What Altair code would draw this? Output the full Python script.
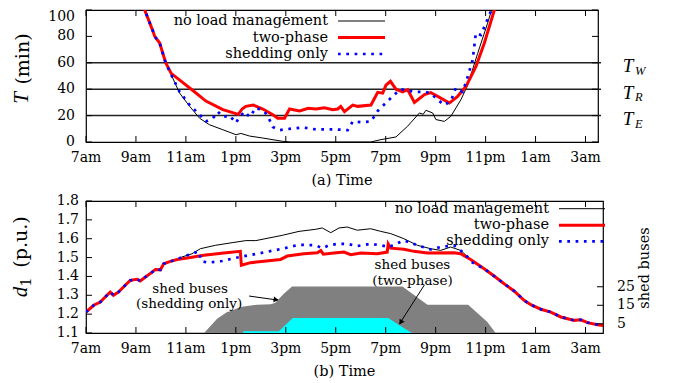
import altair as alt
import pandas as pd

FONT = "DejaVu Serif"
IFONT = "Liberation Serif"

tick_hours = [7, 9, 11, 13, 15, 17, 19, 21, 23, 25, 27]
tick_labels = ["7am", "9am", "11am", "1pm", "3pm", "5pm", "7pm", "9pm", "11pm", "1am", "3am"]

series_names = ["no load management", "two-phase", "shedding only"]

# ---------- (a) T (min) ----------
top_h_none = [9.1, 9.35, 9.68, 9.75, 9.95, 10.19, 10.41, 10.75, 11.15, 11.55, 11.95, 12.48, 13.01, 13.2, 13.55,
              14.08, 14.88, 15.2, 18.4, 18.81, 19.41, 19.88, 20.35, 20.5, 20.61, 20.88, 21.01, 21.35, 21.61, 22.01,
              22.28, 22.68, 23.08, 23.24, 23.5]
top_T_none = [115, 100, 84, 80, 75, 60, 51, 37, 27, 18, 13, 9.3, 5.5, 6.5, 4.5,
              3, 0.5, 0, 0, 1.8, 3.8, 12, 22, 21, 24, 22, 17, 15.6, 19.5, 32,
              43, 67, 90, 100, 118]

top_h_two = [9.1, 9.35, 9.68, 9.75, 9.95, 10.19, 10.41, 10.88, 11.28, 11.8, 12.48, 13.0, 13.1, 13.25, 13.4,
             13.7, 14.08, 14.48, 14.68, 14.95, 15.15, 15.55, 15.9, 16.21, 16.55, 16.88, 17.08, 17.2, 17.35, 17.68,
             17.88, 18.41, 18.68, 18.88, 19.01, 19.19, 19.41, 19.68, 19.88, 20.15, 20.55, 20.8, 21.08, 21.55, 21.88,
             22.21, 22.61, 22.95, 23.35, 23.6]
top_T_two = [115, 100, 84, 80, 75, 60, 52, 45, 39, 31, 24.5, 21.5, 21, 25, 27,
             28, 25, 20.7, 18, 18, 25, 23.5, 25.5, 25, 26, 24.5, 25, 27, 23, 28,
             27, 28, 37.6, 37, 43, 46, 40, 38, 39.6, 30, 36, 37.5, 34.6, 29.5, 34.6,
             42, 57, 75, 100, 118]

top_h_shed = [9.1, 9.35, 9.68, 9.75, 9.95, 10.19, 10.41, 10.75, 11.15, 11.55, 11.8, 12.08, 12.28, 12.48, 12.75,
              13.0, 13.15, 13.35, 13.55, 13.81, 14.15, 14.35, 14.48, 14.75, 15.15, 15.68, 16.21, 17.01, 17.48, 17.68,
              18.01, 18.41, 18.68, 19.08, 19.41, 19.61, 20.15, 20.55, 20.8, 21.08, 21.35, 21.61, 21.81, 22.08, 22.21,
              22.48, 22.61, 22.81, 23.01, 23.19, 23.4]
top_T_shed = [115, 100, 84, 80, 75, 60, 51, 38, 28, 20.7, 15.6, 18, 23, 19, 20,
              14.4, 19, 23, 19, 26, 23, 16.7, 11.4, 9, 10, 11, 9.5, 9.5, 9, 15.6,
              15, 15.6, 23.5, 31, 37, 40, 38, 38, 37, 32, 28, 31, 41, 38, 45,
              62, 82.5, 81, 90, 98, 118]

thresholds = [60, 40, 20]
threshold_subs = ["W", "R", "E"]
top_yticks = [0, 20, 40, 60, 80, 100]
top_ylabels = ["0", "20", "40", "60", "80", "100"]

# ---------- (b) d1 (p.u.) ----------
bot_h_none = [7.0, 7.31, 7.57, 7.84, 7.97, 8.1, 8.3, 8.57, 8.77, 9.04, 9.17, 9.38, 9.65, 9.78, 9.98, 10.11, 10.38, 10.65,
              10.84, 11.24, 11.58, 12.18, 12.85, 13.4, 13.8, 14.86, 15.53, 16.2, 16.46, 16.8, 17.13, 17.46, 17.86,
              18.4, 18.8, 19.2, 19.73, 20.27, 20.8, 21.2, 21.6, 22.0, 22.4, 22.94, 23.34, 23.74, 24.14, 24.54,
              24.81, 25.21, 25.61, 26.01, 26.55, 26.81, 27.08, 27.48, 27.72]
bot_d_none = [1.211, 1.247, 1.264, 1.300, 1.317, 1.300, 1.317, 1.353, 1.379, 1.385, 1.376, 1.397, 1.423, 1.437, 1.435,
              1.467, 1.480, 1.490,
              1.503, 1.520, 1.547, 1.565, 1.579, 1.590, 1.590, 1.618, 1.639, 1.650, 1.657, 1.632, 1.657, 1.662, 1.645,
              1.653, 1.639, 1.627, 1.600, 1.565, 1.547, 1.538, 1.556, 1.538, 1.490, 1.441, 1.402, 1.361, 1.323, 1.273,
              1.250, 1.226, 1.211, 1.185, 1.167, 1.170, 1.155, 1.144, 1.140]

bot_h_two = [7.0, 7.31, 7.57, 7.84, 7.97, 8.1, 8.3, 8.57, 8.77, 9.04, 9.17, 9.38, 9.65, 9.78, 9.98, 10.11, 10.38, 10.65,
             11.05, 11.72, 12.52, 13.18, 13.22, 13.59, 14.12, 14.79, 15.06, 15.72, 16.26, 16.4, 16.5, 16.93, 17.33,
             17.6, 18.0, 18.66, 19.06, 19.1, 19.2, 19.73, 20.13, 20.67, 21.74, 22.0, 22.4, 22.94, 23.34, 23.74,
             24.14, 24.54, 24.81, 25.21, 25.61, 26.01, 26.55, 26.81, 27.08, 27.48, 27.72]
bot_d_two = [1.211, 1.247, 1.264, 1.300, 1.317, 1.300, 1.317, 1.353, 1.379, 1.385, 1.376, 1.397, 1.423, 1.437, 1.435,
             1.467, 1.480, 1.490,
             1.498, 1.512, 1.524, 1.533, 1.459, 1.473, 1.480, 1.490, 1.508, 1.520, 1.526, 1.537, 1.518, 1.524, 1.529,
             1.515, 1.524, 1.520, 1.529, 1.573, 1.550, 1.544, 1.533, 1.524, 1.526, 1.520, 1.490, 1.441, 1.402, 1.361,
             1.323, 1.273, 1.250, 1.226, 1.211, 1.185, 1.167, 1.170, 1.155, 1.144, 1.140]

bot_h_shed = [7.0, 7.31, 7.57, 7.84, 7.97, 8.1, 8.3, 8.57, 8.77, 9.04, 9.17, 9.38, 9.65, 9.78, 9.98, 10.11, 10.38, 10.65,
              10.84, 11.24, 11.5, 11.64, 11.9, 12.45, 12.97, 13.52, 14.19, 14.86, 15.53, 16.2, 16.46, 16.73, 17.06,
              17.46, 17.86, 18.4, 18.8, 19.13, 19.73, 20.27, 20.8, 21.2, 21.73, 22.17, 22.44, 22.94, 23.34, 23.74,
              24.14, 24.54, 24.81, 25.21, 25.61, 26.01, 26.55, 26.81, 27.08, 27.48, 27.72]
bot_d_shed = [1.211, 1.247, 1.264, 1.300, 1.317, 1.300, 1.317, 1.353, 1.379, 1.385, 1.376, 1.397, 1.423, 1.437, 1.435,
              1.467, 1.480, 1.490,
              1.503, 1.520, 1.533, 1.480, 1.473, 1.482, 1.498, 1.512, 1.529, 1.547, 1.568, 1.565, 1.550, 1.565, 1.573,
              1.573, 1.561, 1.573, 1.565, 1.556, 1.591, 1.565, 1.543, 1.556, 1.565, 1.520, 1.476, 1.441, 1.402, 1.361,
              1.323, 1.273, 1.250, 1.226, 1.211, 1.185, 1.167, 1.170, 1.155, 1.144, 1.140]

shed_only_h = [11.73, 12.25, 12.65, 12.77, 13.18, 13.85, 14.4, 14.58, 14.92, 15.25, 19.67, 20.67, 22.3, 23.07, 23.4]
shed_only_n = [0, 7.7, 11.4, 11.8, 14, 15.3, 15.5, 16.4, 21.2, 25.2, 25.2, 15.3, 15.3, 6, 0]
shed_two_h = [13.3, 14.72, 15.28, 19.1, 19.53, 20.05]
shed_two_n = [1, 1, 8.1, 8.1, 4.3, 0]

bot_yticks = [1.1, 1.2, 1.3, 1.4, 1.5, 1.6, 1.7, 1.8]
bot_ylabels = ["1.1", "1.2", "1.3", "1.4", "1.5", "1.6", "1.7", "1.8"]
bus_ticks = [5, 15, 25]
bus_labels = ["5", "15", "25"]
D_MIN, D_MAX = 1.1, 1.8
BUS_MAX = 71.4          # shed-bus count at the top of the right-hand axis
bus_to_d = "%f + datum.n * %f" % (D_MIN, (D_MAX - D_MIN) / BUS_MAX)

ann_labels = ["shed buses", "(shedding only)", "shed buses", "(two-phase)"]
ann_h = [11.17, 11.13, 20.07, 20.07]
ann_d = [1.333, 1.254, 1.458, 1.378]

W1, H1 = 512, 132
W2, H2 = 517, 132

xs1 = alt.Scale(domain=[7, 27.5], nice=False, zero=False)
ys1 = alt.Scale(domain=[0, 100], nice=False, zero=False)
xs2 = alt.Scale(domain=[7, 27.7], nice=False, zero=False)
ys2 = alt.Scale(domain=[D_MIN, D_MAX], nice=False, zero=False)

ONE = pd.DataFrame({"a": [0]})
BLACK = dict(color="black", strokeWidth=1)
RED = dict(color="#ff0000", strokeWidth=3)
BLUE = dict(color="#0000ff", strokeWidth=2.7, strokeDash=[2.7, 5.6])
STYLES = [BLACK, RED, BLUE]


def X(xs):
    return alt.X("h:Q", scale=xs, axis=None)


def Y(ys, f="v:Q"):
    return alt.Y(f, scale=ys, axis=None)


def txt(s, x, y, size=14.5, font=FONT, style="normal", align="center", angle=0):
    return alt.Chart(ONE).mark_text(text=s, font=font, fontSize=size, fontStyle=style, align=align,
                                    baseline="middle", angle=angle, color="black").encode(
        x=alt.value(x), y=alt.value(y))


def sample(x1, x2, y, st):
    return alt.Chart(ONE).mark_rule(**st).encode(x=alt.value(x1), x2=alt.value(x2), y=alt.value(y))


def line(h, v, xs, ys, st):
    df = pd.DataFrame({"h": h, "v": v})
    return alt.Chart(df).mark_line(clip=True, **st).encode(x=X(xs), y=Y(ys))


def xaxis_layers(xs, H):
    df = pd.DataFrame({"h": tick_hours, "lab": tick_labels})
    base = alt.Chart(df).mark_rule(color="black", strokeWidth=1)
    return [base.encode(x=X(xs), y=alt.value(0), y2=alt.value(6)),
            base.encode(x=X(xs), y=alt.value(H - 6), y2=alt.value(H)),
            alt.Chart(df).mark_text(font=FONT, fontSize=14, baseline="middle", color="black").encode(
                x=X(xs), y=alt.value(H + 16), text="lab:N")]


def ytick_layers(vals, ys, W, left=True, right=True):
    df = pd.DataFrame({"v": vals})
    base = alt.Chart(df).mark_rule(color="black", strokeWidth=1)
    out = []
    if left:
        out.append(base.encode(y=Y(ys), x=alt.value(0), x2=alt.value(6)))
    if right:
        out.append(base.encode(y=Y(ys), x=alt.value(W - 6), x2=alt.value(W)))
    return out


def ylabel_layer(vals, labs, ys, pad, baseline="middle"):
    df = pd.DataFrame({"v": vals, "lab": labs})
    return alt.Chart(df).mark_text(font=FONT, fontSize=14, align="right", baseline=baseline,
                                   color="black").encode(y=Y(ys), x=alt.value(-pad), text="lab:N")


def bus_area(h, n, color):
    df = pd.DataFrame({"h": h, "n": n})
    return alt.Chart(df).transform_calculate(d=bus_to_d, d0=str(D_MIN)).mark_area(
        color=color, opacity=1, clip=True).encode(x=X(xs2), y=Y(ys2, "d:Q"), y2="d0:Q")


# ----- top panel -----
thr_df = pd.DataFrame({"v": thresholds, "s": threshold_subs})
thr_lines = alt.Chart(thr_df).mark_rule(color="#222222", strokeWidth=1.5).encode(
    y=Y(ys1), x=alt.value(0), x2=alt.value(W1 + 3))
thr_T = alt.Chart(thr_df).mark_text(text="T", font=IFONT, fontStyle="italic", fontSize=19, dy=3.5,
                                    color="black").encode(y=Y(ys1), x=alt.value(542))
thr_sub = alt.Chart(thr_df).mark_text(font=IFONT, fontStyle="italic", fontSize=12.5, dy=8, align="left",
                                      color="black").encode(y=Y(ys1), x=alt.value(549), text="s:N")

top_layers = [thr_lines,
              line(top_h_none, top_T_none, xs1, ys1, BLACK),
              line(top_h_two, top_T_two, xs1, ys1, RED),
              line(top_h_shed, top_T_shed, xs1, ys1, BLUE),
              thr_T, thr_sub,
              ylabel_layer(top_yticks[:-1], top_ylabels[:-1], ys1, 11),
              ylabel_layer(top_yticks[-1:], top_ylabels[-1:], ys1, 11, baseline="top")]
top_layers += xaxis_layers(xs1, H1) + ytick_layers(top_yticks, ys1, W1)
for i, (nm, st) in enumerate(zip(series_names, STYLES)):
    y = [11, 27.5, 44][i]
    top_layers.append(txt(nm, 242, y, align="right"))
    top_layers.append(sample(252, 299, y, st))
top_layers += [txt("(min)", -63, 49, size=19, angle=270),
               txt("T", -64, 88, size=21, font=IFONT, style="italic", angle=270),
               txt("(a) Time", 256, 171)]
top = alt.layer(*top_layers).properties(width=W1, height=H1)

# ----- bottom panel -----
gray = bus_area(shed_only_h, shed_only_n, "#808080")
cyan = bus_area(shed_two_h, shed_two_n, "#00ffff")

bus_df = pd.DataFrame({"n": bus_ticks, "lab": bus_labels})
bus_tick = alt.Chart(bus_df).transform_calculate(d=bus_to_d).mark_rule(color="black", strokeWidth=1).encode(
    y=Y(ys2, "d:Q"), x=alt.value(W2 - 6), x2=alt.value(W2))
bus_lab = alt.Chart(bus_df).transform_calculate(d=bus_to_d).mark_text(
    font=FONT, fontSize=14, align="left", baseline="middle", color="black").encode(
    y=Y(ys2, "d:Q"), x=alt.value(W2 + 14), text="lab:N")

ann = pd.DataFrame({"h": ann_h, "v": ann_d, "t": ann_labels})
ann_txt = alt.Chart(ann).mark_text(font=FONT, fontSize=13.5, color="black").encode(
    x=X(xs2), y=Y(ys2), text="t:N")
arrows = pd.DataFrame({"h": [13.53, 20.55], "v": [1.296, 1.355], "h2": [14.66, 19.55], "v2": [1.275, 1.148]})
arrow_lines = alt.Chart(arrows).mark_rule(color="black", strokeWidth=1).encode(
    x=X(xs2), x2="h2:Q", y=Y(ys2), y2="v2:Q")
head1 = alt.Chart(pd.DataFrame({"h": [14.58], "v": [1.277]})).mark_point(
    shape="triangle", filled=True, size=35, angle=98, color="black", opacity=1).encode(x=X(xs2), y=Y(ys2))
head2 = alt.Chart(pd.DataFrame({"h": [19.62], "v": [1.16]})).mark_point(
    shape="triangle", filled=True, size=35, angle=212, color="black", opacity=1).encode(x=X(xs2), y=Y(ys2))

bot_layers = [gray, cyan,
              line(bot_h_none, bot_d_none, xs2, ys2, BLACK),
              line(bot_h_two, bot_d_two, xs2, ys2, RED),
              line(bot_h_shed, bot_d_shed, xs2, ys2, BLUE),
              ann_txt, arrow_lines, head1, head2, bus_tick, bus_lab,
              ylabel_layer(bot_yticks, bot_ylabels, ys2, 7)]
bot_layers += xaxis_layers(xs2, H2) + ytick_layers(bot_yticks, ys2, W2, right=False)
for i, (nm, st) in enumerate(zip(series_names, STYLES)):
    y = [7.7, 24.3, 40.3][i]
    bot_layers.append(txt(nm, 463, y, align="right"))
    bot_layers.append(sample(473, 519, y, st))
bot_layers += [txt("(p.u.)", -65, 41, size=19, angle=270),
               txt("d", -65, 91, size=21, font=IFONT, style="italic", angle=270),
               txt("1", -59, 81, size=14, angle=270),
               txt("shed buses", 559, 67, angle=270),
               txt("(b) Time", 258.5, 171)]
bottom = alt.layer(*bot_layers).properties(width=W2, height=H2)

chart = alt.vconcat(top, bottom, spacing=59, bounds="flush").properties(
    padding={"left": 1, "top": 0, "right": 5, "bottom": 0}
).configure_view(stroke="black", strokeWidth=1.2)

chart.save("out.html", embed_options={"renderer": "svg", "actions": False})
